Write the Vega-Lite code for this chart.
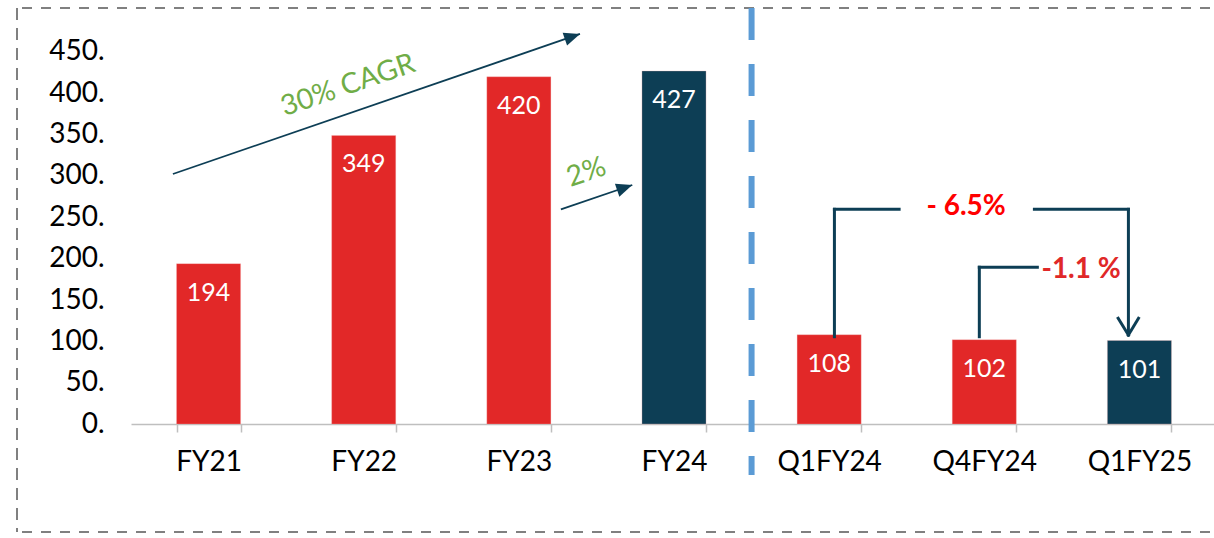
{
  "$schema": "https://vega.github.io/schema/vega-lite/v6.json",
  "width": 1250,
  "height": 524,
  "autosize": {"type": "none"},
  "padding": {"left": 17, "top": 8, "right": 0, "bottom": 6},
  "background": "white",
  "config": {
    "view": {"stroke": null},
    "font": "Lato"
  },
  "datasets": {
    "bars": [
      {"period": "FY21", "value": 194, "type": "prior"},
      {"period": "FY22", "value": 349, "type": "prior"},
      {"period": "FY23", "value": 420, "type": "prior"},
      {"period": "FY24", "value": 427, "type": "latest"},
      {"period": "Q1FY24", "value": 108, "type": "prior"},
      {"period": "Q4FY24", "value": 102, "type": "prior"},
      {"period": "Q1FY25", "value": 101, "type": "latest"}
    ],
    "frameH": [
      {"y": 503.2},
      {"y": -130.6}
    ],
    "frameV": [
      {"x": -1.2348, "top": 503.2, "bottom": -130.6}
    ],
    "divider": [
      {"x": 3.5, "top": 503.2, "bottom": -61.7}
    ],
    "arrows": [
      {"x": -0.23, "y": 302.4, "x2": 2.394, "y2": 471.8},
      {"x": 2.271, "y": 259.7, "x2": 2.731, "y2": 289.1}
    ],
    "heads": [
      {"x": 2.394, "y": 471.8},
      {"x": 2.731, "y": 289.1}
    ],
    "brackets": [
      {"x": 4.034, "y": 105.6, "x2": 4.034, "y2": 259.7},
      {"x": 4.034, "y": 259.7, "x2": 4.451, "y2": 259.7},
      {"x": 5.323, "y": 259.7, "x2": 5.929, "y2": 259.7},
      {"x": 5.929, "y": 259.7, "x2": 5.929, "y2": 107.7},
      {"x": 5.863, "y": 127.9, "x2": 5.929, "y2": 107.7},
      {"x": 5.994, "y": 127.9, "x2": 5.929, "y2": 107.7},
      {"x": 4.968, "y": 105.6, "x2": 4.968, "y2": 189.6},
      {"x": 4.968, "y": 189.6, "x2": 5.342, "y2": 189.6}
    ],
    "growth": [
      {"text": "30% CAGR", "x": 0.898, "y": 410},
      {"text": "2%", "x": 2.434, "y": 304.8}
    ]
  },
  "resolve": {"scale": {"x": "independent", "y": "independent"}},
  "layer": [
    {
      "data": {"name": "frameH"},
      "mark": {"type": "rule", "color": "#808080", "strokeWidth": 2, "strokeDash": [10, 9]},
      "encoding": {
        "y": {"field": "y", "type": "quantitative", "scale": {"domain": [-130.6, 503.2], "nice": false, "zero": false}, "axis": null}
      }
    },
    {
      "data": {"name": "frameV"},
      "mark": {"type": "rule", "color": "#808080", "strokeWidth": 2, "strokeDash": [12, 8]},
      "encoding": {
        "x": {"field": "x", "type": "quantitative", "scale": {"domain": [-0.5, 6.5], "range": [114, 1200], "nice": false, "zero": false}, "axis": null},
        "y": {"field": "top", "type": "quantitative", "scale": {"domain": [-130.6, 503.2], "nice": false, "zero": false}, "axis": null},
        "y2": {"field": "bottom"}
      }
    },
    {
      "data": {"name": "divider"},
      "mark": {"type": "rule", "color": "#5B9BD5", "strokeWidth": 6, "strokeDash": [32, 24]},
      "encoding": {
        "x": {"field": "x", "type": "quantitative", "scale": {"domain": [-0.5, 6.5], "range": [114, 1200], "nice": false, "zero": false}, "axis": null},
        "y": {"field": "top", "type": "quantitative", "scale": {"domain": [-130.6, 503.2], "nice": false, "zero": false}, "axis": null},
        "y2": {"field": "bottom"}
      }
    },
    {
      "data": {"name": "bars"},
      "mark": {"type": "bar", "stroke": "#f4b6b6", "strokeWidth": 0.5, "strokeOpacity": 0.6},
      "encoding": {
        "x": {
          "field": "period", "type": "nominal", "sort": null,
          "scale": {"range": [114, 1200], "paddingInner": 0.587, "paddingOuter": 0.2935},
          "axis": {
            "orient": "bottom", "offset": -108, "title": null, "tickBand": "extent",
            "tickSize": 8, "tickColor": "#BFBFBF", "tickWidth": 1.5,
            "domainColor": "#BFBFBF", "domainWidth": 1.5,
            "labelFont": "Lato", "labelFontSize": 28, "labelColor": "#000000",
            "labelPadding": 16, "labelAngle": 0, "grid": false
          }
        },
        "y": {
          "field": "value", "type": "quantitative",
          "scale": {"domain": [-130.6, 503.2], "nice": false, "zero": false},
          "axis": {
            "orient": "left", "offset": -114, "title": null, "values": [0, 50, 100, 150, 200, 250, 300, 350, 400, 450],
            "format": "d", "labelExpr": "datum.label + '.'",
            "domain": false, "ticks": false, "tickSize": 0, "grid": false,
            "labelFont": "Lato", "labelFontSize": 28, "labelColor": "#000000", "labelPadding": 27
          }
        },
        "y2": {"datum": 0},
        "color": {"field": "type", "type": "nominal", "scale": {"domain": ["prior", "latest"], "range": ["#E22828", "#0D3E55"]}, "legend": null}
      }
    },
    {
      "data": {"name": "bars"},
      "mark": {"type": "text", "color": "white", "font": "Lato", "fontSize": 25, "baseline": "alphabetic", "align": "center", "dy": 37},
      "encoding": {
        "x": {"field": "period", "type": "nominal", "sort": null, "scale": {"range": [114, 1200], "paddingInner": 0.587, "paddingOuter": 0.2935}, "axis": null},
        "y": {"field": "value", "type": "quantitative", "scale": {"domain": [-130.6, 503.2], "nice": false, "zero": false}, "axis": null},
        "text": {"field": "value", "type": "quantitative", "format": "d"}
      }
    },
    {
      "data": {"name": "arrows"},
      "mark": {"type": "rule", "color": "#0D3E55", "strokeWidth": 1.8},
      "encoding": {
        "x": {"field": "x", "type": "quantitative", "scale": {"domain": [-0.5, 6.5], "range": [114, 1200], "nice": false, "zero": false}, "axis": null},
        "x2": {"field": "x2"},
        "y": {"field": "y", "type": "quantitative", "scale": {"domain": [-130.6, 503.2], "nice": false, "zero": false}, "axis": null},
        "y2": {"field": "y2"}
      }
    },
    {
      "data": {"name": "heads"},
      "mark": {"type": "point", "shape": "M0,0 L-2,-0.85 L-2,0.85 Z", "filled": true, "color": "#0D3E55", "opacity": 1, "size": 256, "angle": -19},
      "encoding": {
        "x": {"field": "x", "type": "quantitative", "scale": {"domain": [-0.5, 6.5], "range": [114, 1200], "nice": false, "zero": false}, "axis": null},
        "y": {"field": "y", "type": "quantitative", "scale": {"domain": [-130.6, 503.2], "nice": false, "zero": false}, "axis": null}
      }
    },
    {
      "data": {"name": "brackets"},
      "mark": {"type": "rule", "color": "#0D3E55", "strokeWidth": 3, "strokeCap": "square"},
      "encoding": {
        "x": {"field": "x", "type": "quantitative", "scale": {"domain": [-0.5, 6.5], "range": [114, 1200], "nice": false, "zero": false}, "axis": null},
        "x2": {"field": "x2"},
        "y": {"field": "y", "type": "quantitative", "scale": {"domain": [-130.6, 503.2], "nice": false, "zero": false}, "axis": null},
        "y2": {"field": "y2"}
      }
    },
    {
      "data": {"name": "growth"},
      "mark": {"type": "text", "color": "#70AD47", "font": "Lato", "fontSize": 28.5, "angle": -19, "align": "center", "baseline": "middle"},
      "encoding": {
        "x": {"field": "x", "type": "quantitative", "scale": {"domain": [-0.5, 6.5], "range": [114, 1200], "nice": false, "zero": false}, "axis": null},
        "y": {"field": "y", "type": "quantitative", "scale": {"domain": [-130.6, 503.2], "nice": false, "zero": false}, "axis": null},
        "text": {"field": "text"}
      }
    },
    {
      "data": {"values": [{"text": "- 6.5%", "x": 4.883, "y": 262.5}]},
      "mark": {"type": "text", "color": "#FF0000", "font": "Lato", "fontWeight": "bold", "fontSize": 28, "align": "center", "baseline": "middle"},
      "encoding": {
        "x": {"field": "x", "type": "quantitative", "scale": {"domain": [-0.5, 6.5], "range": [114, 1200], "nice": false, "zero": false}, "axis": null},
        "y": {"field": "y", "type": "quantitative", "scale": {"domain": [-130.6, 503.2], "nice": false, "zero": false}, "axis": null},
        "text": {"field": "text"}
      }
    },
    {
      "data": {"values": [{"text": "-1.1 %", "x": 5.624, "y": 186.3}]},
      "mark": {"type": "text", "color": "#E02828", "font": "Lato", "fontWeight": "bold", "fontSize": 28, "align": "center", "baseline": "middle"},
      "encoding": {
        "x": {"field": "x", "type": "quantitative", "scale": {"domain": [-0.5, 6.5], "range": [114, 1200], "nice": false, "zero": false}, "axis": null},
        "y": {"field": "y", "type": "quantitative", "scale": {"domain": [-130.6, 503.2], "nice": false, "zero": false}, "axis": null},
        "text": {"field": "text"}
      }
    }
  ]
}
